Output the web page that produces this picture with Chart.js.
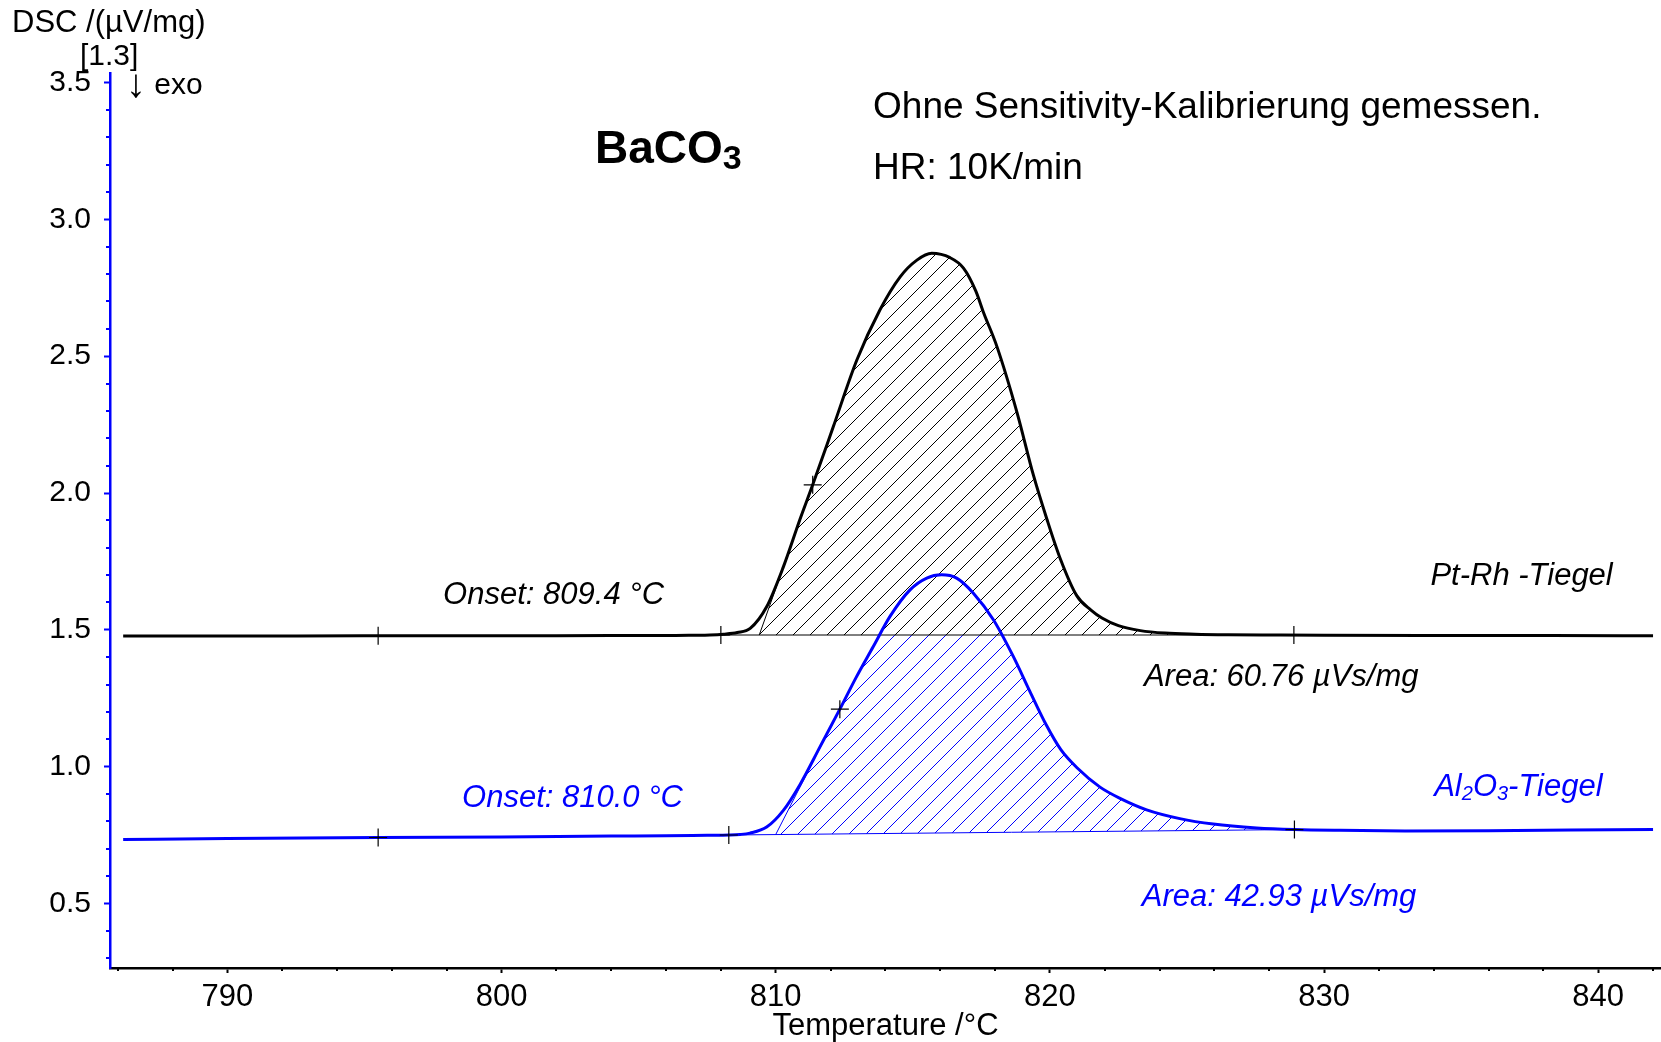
<!DOCTYPE html>
<html>
<head>
<meta charset="utf-8">
<title>DSC BaCO3</title>
<script src="https://cdn.jsdelivr.net/npm/chart.js@4.4.1/dist/chart.umd.min.js"></script>
<style>
    html, body { margin: 0; padding: 0; background: #fff; }
    #wrap { width: 1661px; height: 1042px; }
</style>
</head>
<body>
<div id="wrap"><canvas id="dscChart" width="1661" height="1042"></canvas></div>
<script>
const FONT = '"Liberation Sans", Arial, Helvetica, sans-serif';
const BLUE = '#0000ff';

// Pt-Rh crucible (black curve)
const ptRhTemp = [786.2, 790, 795, 800, 804, 806, 807, 807.6, 808.1, 808.6, 809.07, 809.67, 810.28, 810.89,
    811.35, 812.1, 812.96, 813.8, 814.54, 815.15, 815.69, 816.36, 816.85, 817.3, 817.58, 818.07, 818.8, 819.4,
    819.89, 820.38, 820.98, 821.5, 821.9, 822.5, 823.3, 824.2, 825.3, 826.5, 828, 830, 834, 838, 842];
const ptRhDsc = [1.477, 1.477, 1.478, 1.478, 1.479, 1.479, 1.480, 1.481, 1.484, 1.490, 1.505, 1.584, 1.730, 1.905,
    2.030, 2.242, 2.486, 2.669, 2.790, 2.851, 2.876, 2.860, 2.822, 2.738, 2.660, 2.535, 2.295, 2.065,
    1.905, 1.760, 1.625, 1.572, 1.543, 1.515, 1.497, 1.488, 1.484, 1.482, 1.481, 1.480, 1.479, 1.479, 1.478];

// Al2O3 crucible (blue curve)
const alTemp = [786.2, 790, 795.5, 800, 804, 806, 807.5, 808.29, 808.7, 809.06, 809.67, 810.28, 810.89, 811.62,
    812.34, 812.95, 813.56, 814.17, 814.9, 815.51, 816.05, 816.6, 817.21, 817.94, 818.67, 819.27, 819.88,
    820.4, 821.0, 821.83, 822.56, 823.53, 824.74, 825.96, 827.54, 828.92, 830.58, 833, 836, 839, 842];
const alDsc = [0.734, 0.737, 0.741, 0.743, 0.746, 0.747, 0.749, 0.750, 0.752, 0.757, 0.779, 0.840, 0.935, 1.073,
    1.210, 1.329, 1.439, 1.549, 1.646, 1.689, 1.701, 1.689, 1.634, 1.537, 1.402, 1.275, 1.150,
    1.062, 0.995, 0.925, 0.884, 0.842, 0.810, 0.790, 0.776, 0.770, 0.767, 0.765, 0.766, 0.768, 0.770];

// evaluation: baseline limits, onset, inflection point
const ptRhBaseTemp = [808.0, 828.9];
const ptRhBaseDsc = [1.481, 1.481];
const ptRhOnset = 809.4;
const ptRhInflection = 811.35;
const alBaseTemp = [808.29, 828.92];
const alBaseDsc = [0.750, 0.770];
const alOnset = 810.0;
const alInflection = 812.34;

// "+" marks set by the evaluation software
const ptRhMarkTemp = [795.5, 808.0, 828.9, 811.35];
const ptRhMarkDsc = [1.478, 1.481, 1.481, 2.030];
const alMarkTemp = [795.5, 808.29, 828.92, 812.34];
const alMarkDsc = [0.741, 0.750, 0.770, 1.210];

// axes
const xTicks = [790, 800, 810, 820, 830, 840];
const yTicks = [0.5, 1.0, 1.5, 2.0, 2.5, 3.0, 3.5];
const xRange = [785.72, 842.29];
const yRange = [0.264, 3.535];

const toPoints = (xs, ys) => xs.map((x, i) => ({ x, y: ys[i] }));

const lerp = (xs, ys, x) => ys[0] + (ys[1] - ys[0]) * (x - xs[0]) / (xs[1] - xs[0]);

// closed outline of the evaluated peak: tangent, curve, baseline
const peakOutline = (temps, dsc, baseT, baseD, onset, inflection) => {
    const start = { x: onset, y: lerp(baseT, baseD, onset) };
    const pts = [start];
    temps.forEach((t, i) => {
        if (t >= inflection && t < baseT[1]) pts.push({ x: t, y: dsc[i] });
    });
    pts.push({ x: baseT[1], y: baseD[1] });
    pts.push(start);
    return pts;
};

const tangent = (temps, dsc, baseT, baseD, onset, inflection) => {
    const i = temps.indexOf(inflection);
    return [{ x: onset, y: lerp(baseT, baseD, onset) }, { x: temps[i], y: dsc[i] }];
};

const hatch = (color) => {
    const s = 17;
    const tile = document.createElement('canvas');
    tile.width = s;
    tile.height = s;
    const g = tile.getContext('2d');
    g.strokeStyle = color;
    g.lineWidth = 1;
    g.beginPath();
    g.moveTo(0, s);
    g.lineTo(s, 0);
    g.moveTo(-2, 2);
    g.lineTo(2, -2);
    g.moveTo(s - 2, s + 2);
    g.lineTo(s + 2, s - 2);
    g.stroke();
    return g.createPattern(tile, 'repeat');
};

// text runs, sub = subscript
const notes = [
    { runs: [{ t: 'Onset: 809.4 °C' }], x: 797.87, y: 1.632, color: '#000', italic: true },
    { runs: [{ t: 'Pt-Rh -Tiegel' }], x: 840.53, y: 1.701, color: '#000', italic: true, right: true },
    { runs: [{ t: 'Area: 60.76 µVs/mg' }], x: 823.43, y: 1.335, color: '#000', italic: true },
    { runs: [{ t: 'Onset: 810.0 °C' }], x: 798.56, y: 0.893, color: BLUE, italic: true },
    { runs: [{ t: 'Al' }, { t: '2', sub: true }, { t: 'O' }, { t: '3', sub: true }, { t: '-Tiegel' }],
        x: 840.16, y: 0.930, color: BLUE, italic: true, right: true },
    { runs: [{ t: 'Area: 42.93 µVs/mg' }], x: 823.35, y: 0.531, color: BLUE, italic: true },
    { runs: [{ t: 'BaCO', bold: true }, { t: '3', sub: true, bold: true, size: 34 }],
        x: 803.41, y: 3.261, color: '#000', size: 46 },
    { runs: [{ t: 'Ohne Sensitivity-Kalibrierung gemessen.' }], x: 813.55, y: 3.414, color: '#000', size: 37 },
    { runs: [{ t: 'HR: 10K/min' }], x: 813.55, y: 3.191, color: '#000', size: 37 },
];

const runFont = (r, size, italic) => {
    const fs = r.size || (r.sub ? Math.round(size * 0.66) : size);
    return `${italic ? 'italic ' : ''}${r.bold ? 'bold ' : ''}${fs}px ${FONT}`;
};

const drawRuns = (ctx, x, y, runs, size, italic, color, right) => {
    ctx.fillStyle = color;
    ctx.textAlign = 'left';
    ctx.textBaseline = 'middle';
    let total = 0;
    runs.forEach((r) => {
        ctx.font = runFont(r, size, italic);
        total += ctx.measureText(r.t).width;
    });
    let cx = right ? x - total : x;
    runs.forEach((r) => {
        ctx.font = runFont(r, size, italic);
        ctx.fillText(r.t, cx, r.sub ? y + size * 0.2 : y);
        cx += ctx.measureText(r.t).width;
    });
};

const minorTicks = {
    id: 'minorTicks',
    afterDraw(chart) {
        const { ctx, scales: { x, y } } = chart;
        ctx.save();
        ctx.lineWidth = 2;
        ctx.strokeStyle = '#000';
        ctx.beginPath();
        for (let v = Math.ceil(x.min / 2) * 2; v <= x.max; v += 2) {
            if (v % 10 === 0) continue;
            const px = Math.round(x.getPixelForValue(v));
            ctx.moveTo(px, x.top);
            ctx.lineTo(px, x.top + 3);
        }
        ctx.stroke();
        ctx.strokeStyle = BLUE;
        ctx.beginPath();
        for (let k = Math.ceil(y.min * 10); k <= y.max * 10; k++) {
            if (k % 5 === 0) continue;
            const py = Math.round(y.getPixelForValue(k / 10));
            ctx.moveTo(y.right - 4, py);
            ctx.lineTo(y.right, py);
        }
        ctx.stroke();
        ctx.restore();
    },
};

const labels = {
    id: 'labels',
    afterDraw(chart) {
        const { ctx, scales: { x, y } } = chart;
        ctx.save();
        notes.forEach((n) => {
            drawRuns(ctx, x.getPixelForValue(n.x), y.getPixelForValue(n.y) + 2, n.runs, n.size || 31,
                n.italic, n.color, n.right);
        });
        // y axis caption above the axis
        drawRuns(ctx, 12, 23, [{ t: 'DSC /(µV/mg)' }], 31, false, '#000');
        drawRuns(ctx, 80, 57, [{ t: '[1.3]' }], 30, false, '#000');
        drawRuns(ctx, 126, 86, [{ t: '↓', size: 40 }, { t: ' exo' }], 30, false, '#000');
        ctx.restore();
    },
};

const canvas = document.getElementById('dscChart');

new Chart(canvas, {
    type: 'line',
    data: {
        datasets: [
            {
                data: toPoints(ptRhMarkTemp, ptRhMarkDsc),
                showLine: false,
                pointStyle: 'cross',
                pointRadius: 9,
                pointBorderWidth: 1.2,
                pointBorderColor: '#000',
                order: 0,
            },
            {
                data: toPoints(alMarkTemp, alMarkDsc),
                showLine: false,
                pointStyle: 'cross',
                pointRadius: 9,
                pointBorderWidth: 1.2,
                pointBorderColor: '#000',
                order: 0,
            },
            {
                data: toPoints(ptRhTemp, ptRhDsc),
                borderColor: '#000',
                borderWidth: 3,
                pointRadius: 0,
                cubicInterpolationMode: 'monotone',
                order: 1,
            },
            {
                data: toPoints(alTemp, alDsc),
                borderColor: BLUE,
                borderWidth: 3,
                pointRadius: 0,
                cubicInterpolationMode: 'monotone',
                order: 1,
            },
            {
                data: toPoints(ptRhBaseTemp, ptRhBaseDsc),
                borderColor: '#000',
                borderWidth: 1,
                pointRadius: 0,
                order: 2,
            },
            {
                data: toPoints(alBaseTemp, alBaseDsc),
                borderColor: BLUE,
                borderWidth: 1,
                pointRadius: 0,
                order: 2,
            },
            {
                data: tangent(ptRhTemp, ptRhDsc, ptRhBaseTemp, ptRhBaseDsc, ptRhOnset, ptRhInflection),
                borderColor: '#000',
                borderWidth: 1,
                pointRadius: 0,
                order: 2,
            },
            {
                data: tangent(alTemp, alDsc, alBaseTemp, alBaseDsc, alOnset, alInflection),
                borderColor: BLUE,
                borderWidth: 1,
                pointRadius: 0,
                order: 2,
            },
            {
                data: peakOutline(ptRhTemp, ptRhDsc, ptRhBaseTemp, ptRhBaseDsc, ptRhOnset, ptRhInflection),
                borderColor: 'transparent',
                backgroundColor: hatch('#000'),
                fill: 'shape',
                pointRadius: 0,
                tension: 0,
                order: 5,
            },
            {
                data: peakOutline(alTemp, alDsc, alBaseTemp, alBaseDsc, alOnset, alInflection),
                borderColor: 'transparent',
                backgroundColor: hatch(BLUE),
                fill: 'shape',
                pointRadius: 0,
                tension: 0,
                order: 5,
            },
        ],
    },
    options: {
        responsive: false,
        animation: false,
        layout: { autoPadding: false, padding: { top: 73, left: 0, right: 0, bottom: 0 } },
        plugins: { legend: { display: false }, tooltip: { enabled: false } },
        scales: {
            x: {
                type: 'linear',
                min: xRange[0],
                max: xRange[1],
                afterFit: (s) => { s.height = 74; },
                afterBuildTicks: (s) => { s.ticks = xTicks.map((v) => ({ value: v })); },
                border: { color: '#000', width: 2.5 },
                grid: { drawOnChartArea: false, color: '#000', tickLength: 5, tickWidth: 2 },
                ticks: {
                    color: '#000',
                    padding: 6,
                    font: { family: FONT, size: 31 },
                    callback: (v) => String(v),
                },
                title: {
                    display: true,
                    text: 'Temperature /°C',
                    color: '#000',
                    font: { family: FONT, size: 31, lineHeight: 1 },
                    padding: { top: 0, bottom: 0 },
                },
            },
            y: {
                type: 'linear',
                min: yRange[0],
                max: yRange[1],
                afterFit: (s) => { s.width = 110; },
                afterBuildTicks: (s) => { s.ticks = yTicks.map((v) => ({ value: v })); },
                border: { color: BLUE, width: 2.5 },
                grid: { drawOnChartArea: false, color: BLUE, tickLength: 6, tickWidth: 2 },
                ticks: {
                    color: '#000',
                    padding: 13,
                    font: { family: FONT, size: 30 },
                    callback: (v) => Number(v).toFixed(1),
                },
            },
        },
    },
    plugins: [minorTicks, labels],
});
</script>
</body>
</html>
